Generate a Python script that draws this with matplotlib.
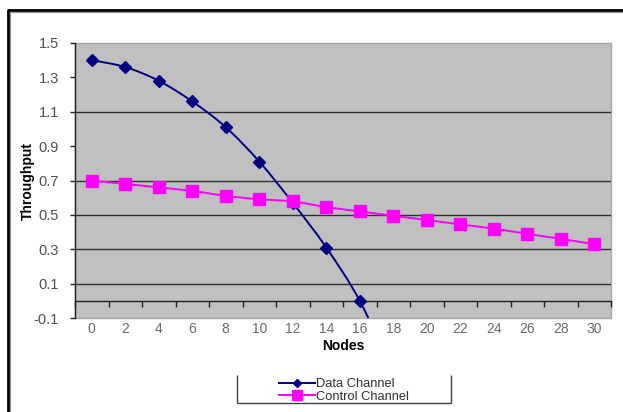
import numpy as np
import matplotlib
matplotlib.use("Agg")
import matplotlib.pyplot as plt
from matplotlib.path import Path
from matplotlib.patches import PathPatch
from matplotlib.lines import Line2D

plt.rcParams["font.family"] = ["Liberation Sans", "DejaVu Sans"]

# ---- data ----
nodes = [0, 2, 4, 6, 8, 10, 12, 14, 16, 18, 20, 22, 24, 26, 28, 30]
data_channel = [1.40, 1.36, 1.28, 1.16, 1.01, 0.81, 0.57, 0.31, 0.00, -0.42]
control_channel = [0.70, 0.68, 0.66, 0.64, 0.61, 0.59, 0.58, 0.545, 0.52,
                   0.495, 0.47, 0.445, 0.42, 0.39, 0.36, 0.33]
y_ticks = [-0.1, 0.1, 0.3, 0.5, 0.7, 0.9, 1.1, 1.3, 1.5]
grid_levels = [0.1, 0.3, 0.5, 0.7, 1.1]

NAVY = "#000080"
MAGENTA = "#FF00FF"
PLOT_BG = "#C0C0C0"

W, H = 623, 412
fig = plt.figure(figsize=(W / 100, H / 100), dpi=100)
fig.patch.set_facecolor("white")

ax = fig.add_axes([75 / W, 1 - 318 / H, (611 - 75) / W, (318 - 43) / H])
ax.set_facecolor(PLOT_BG)
ax.patch.set_edgecolor("#A8A8A8")
ax.patch.set_linewidth(1.0)

n_cat = len(nodes)
ax.set_xlim(-0.5, n_cat - 0.5)
ax.set_ylim(-0.1, 1.5)

# horizontal grid lines
for g in grid_levels:
    ax.axhline(g, color="#303030", lw=1.0, zorder=1)

# spines: left axis dark, category axis sitting on y = 0
for s in ("top", "right"):
    ax.spines[s].set_visible(False)
ax.spines["left"].set_color("#202020")
ax.spines["left"].set_linewidth(1.0)
ax.spines["bottom"].set_position(("data", 0))
ax.spines["bottom"].set_color("#202020")
ax.spines["bottom"].set_linewidth(1.0)

ax.set_yticks(y_ticks)
ax.set_yticklabels([f"{v:.1f}" for v in y_ticks])
ax.tick_params(axis="y", direction="out", length=3.5, width=1, color="#202020",
               labelsize=10.5, labelcolor="#505050", pad=8)

# category labels centred, tick marks between categories
cat_pos = np.arange(n_cat)
ax.set_xticks(cat_pos)
ax.set_xticklabels([str(v) for v in nodes])
ax.set_xticks(np.arange(n_cat + 1) - 0.5, minor=True)
ax.tick_params(axis="x", which="major", length=0, labelsize=10,
               labelcolor="#6A6A6A", pad=15.5)
ax.tick_params(axis="x", which="minor", direction="out", length=4, width=1,
               color="#202020")


def smooth_path(xs, ys):
    """Cubic Bezier path through the points (Catmull-Rom style tangents)."""
    xs = np.asarray(xs, float)
    ys = np.asarray(ys, float)
    pts = np.column_stack([xs, ys])
    n = len(pts)
    verts = [pts[0]]
    codes = [Path.MOVETO]
    for i in range(n - 1):
        p0 = pts[i - 1] if i > 0 else pts[i]
        p1 = pts[i]
        p2 = pts[i + 1]
        p3 = pts[i + 2] if i + 2 < n else pts[i + 1]
        c1 = p1 + (p2 - p0) / 6.0
        c2 = p2 - (p3 - p1) / 6.0
        verts += [c1, c2, p2]
        codes += [Path.CURVE4] * 3
    return Path(verts, codes)


data_x = cat_pos[:len(data_channel)]
ctrl_x = cat_pos[:len(control_channel)]

patch = PathPatch(smooth_path(data_x, data_channel), facecolor="none",
                  edgecolor=NAVY, lw=1.4, zorder=3)
ax.add_patch(patch)
patch.set_clip_path(ax.patch)
ax.plot(data_x, data_channel, linestyle="none", marker="D", ms=6,
        color=NAVY, zorder=4, clip_on=True)

ax.plot(ctrl_x, control_channel, color=MAGENTA, lw=1.4, marker="s", ms=8,
        zorder=5)

ax.set_ylabel("Throughput", fontsize=10, fontweight="bold")
ax.yaxis.set_label_coords(-(75 - 28) / (611 - 75), 0.5)
ax.set_xlabel("Nodes", fontsize=10, fontweight="bold")
ax.xaxis.set_label_coords(0.5, -(346 - 318) / (318 - 43))
ax.xaxis.label.set_va("center")
ax.yaxis.label.set_va("center")

# legend
handles = [
    Line2D([], [], color=NAVY, lw=1.4, marker="D", ms=4.5),
    Line2D([], [], color=MAGENTA, lw=1.4, marker="s", ms=6.5),
]
leg = fig.legend(handles, ["Data Channel", "Control Channel"],
                 loc="upper left", bbox_to_anchor=(279 / W, 1 - 378 / H),
                 frameon=False, fontsize=9.3, handlelength=2.8,
                 handletextpad=0.1, labelspacing=0.05, borderpad=0,
                 borderaxespad=0, labelcolor="#303030")

# legend border (left, bottom, right)
def fig_line(x0, y0, x1, y1, color, lw):
    fig.add_artist(Line2D([x0 / W, x1 / W], [1 - y0 / H, 1 - y1 / H],
                          color=color, lw=lw, transform=fig.transFigure,
                          solid_capstyle="butt"))

fig_line(237, 375, 237, 403, "#404040", 1.0)
fig_line(237, 403, 451, 403, "#404040", 1.0)
fig_line(451, 375, 451, 403, "#404040", 1.0)

# outer chart frame
fig_line(7.5, 10, 7.5, H, "black", 2.0)
fig_line(6.5, 10, W, 10, "black", 2.0)
fig_line(10.2, 12, 10.2, H, "#909090", 0.8)
fig_line(10, 12.2, W, 12.2, "#909090", 0.8)

fig.savefig("out.png", dpi=100)
